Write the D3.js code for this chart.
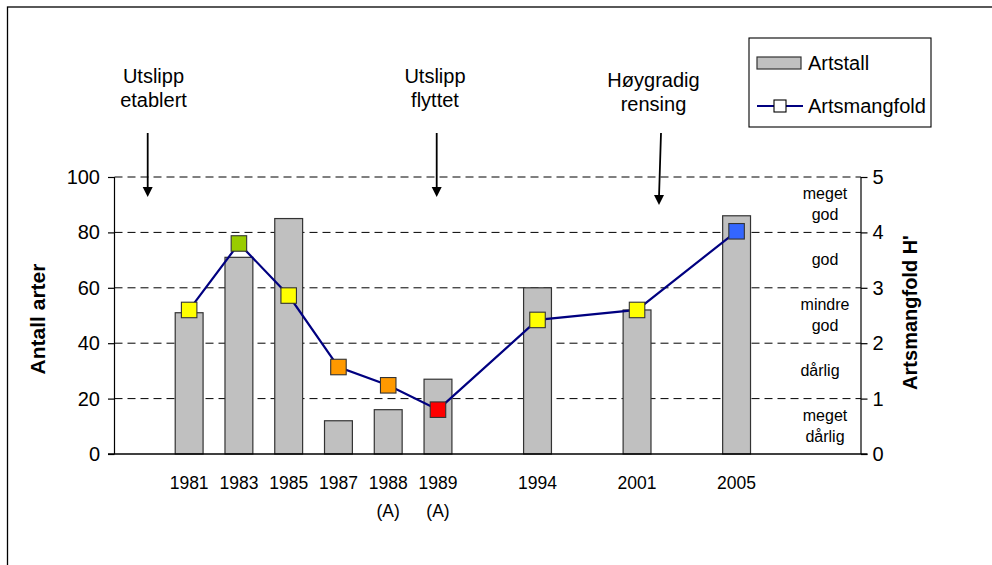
<!DOCTYPE html>
<html>
<head>
<meta charset="utf-8">
<script src="https://cdn.jsdelivr.net/npm/d3@7"></script>
<style>
  html, body { margin: 0; padding: 0; background: #fff; }
  svg { display: block; font-family: "Liberation Sans", Arial, sans-serif; }
</style>
</head>
<body>
<svg id="chart" width="992" height="565"></svg>
<script>
// ---- data ----
const categories = ["1981", "1983", "1985", "1987", "1988", "1989", "1994", "2001", "2005"];
const subLabels = ["", "", "", "", "(A)", "(A)", "", "", ""];
// category slots on the axis (empty slots keep the gaps of the original)
const axisSlots = ["_s0", "1981", "1983", "1985", "1987", "1988", "1989", "_s7", "1994", "_s9", "2001", "_s11", "2005", "_s13", "_s14"];
const artstall = [51, 71, 85, 12, 16, 27, 60, 52, 86];
const artsmangfold = [2.60, 3.80, 2.86, 1.57, 1.24, 0.80, 2.42, 2.60, 4.02];
const leftTicks = [0, 20, 40, 60, 80, 100];
const rightTicks = [0, 1, 2, 3, 4, 5];
const classBreaks = [1, 2, 3, 4];
const classNames = [
  { lines: ["meget", "dårlig"], lo: 0, hi: 1 },
  { lines: ["dårlig"], lo: 1, hi: 2 },
  { lines: ["mindre", "god"], lo: 2, hi: 3 },
  { lines: ["god"], lo: 3, hi: 4 },
  { lines: ["meget", "god"], lo: 4, hi: 5 }
];
const events = [
  { lines: ["Utslipp", "etablert"] },
  { lines: ["Utslipp", "flyttet"] },
  { lines: ["Høygradig", "rensing"] }
];

// ---- layout / style ----
const plot = { left: 114.5, right: 861, top: 177, bottom: 454 };
const classColors = ["#FF0000", "#FF9900", "#FFFF00", "#99CC00", "#3366FF"];
const eventLayout = [
  { tx: 153.5, ty: 83, ax1: 147.7, ax2: 147.7 },
  { tx: 435, ty: 83, ax1: 436.7, ax2: 436.7 },
  { tx: 653.5, ty: 87, ax1: 661, ax2: 659 }
];

const svg = d3.select("#chart");

// outer frame (only top & left visible)
svg.append("rect").attr("x", 7.5).attr("y", 7).attr("width", 1000).attr("height", 600)
  .attr("fill", "#fff").attr("stroke", "#000").attr("stroke-width", 1.3);

const x = d3.scaleBand().domain(axisSlots).range([plot.left, plot.right])
  .paddingInner(0.44).paddingOuter(0.22);
const yL = d3.scaleLinear().domain([0, 100]).range([plot.bottom, plot.top]);
const yR = d3.scaleLinear().domain([0, 5]).range([plot.bottom, plot.top]);
const colorOf = d3.scaleThreshold().domain(classBreaks).range(classColors);
const cx = c => x(c) + x.bandwidth() / 2;

// gridlines
svg.append("g").selectAll("line").data(leftTicks.filter(d => d > 0)).join("line")
  .attr("x1", plot.left).attr("x2", plot.right)
  .attr("y1", d => yL(d)).attr("y2", d => yL(d))
  .attr("stroke", "#000").attr("stroke-width", 1).attr("stroke-dasharray", "8,5");

// bars
svg.append("g").selectAll("rect").data(categories).join("rect")
  .attr("x", c => x(c))
  .attr("width", x.bandwidth())
  .attr("y", (c, i) => yL(artstall[i]))
  .attr("height", (c, i) => yL(0) - yL(artstall[i]))
  .attr("fill", "#C0C0C0").attr("stroke", "#333").attr("stroke-width", 1.2);

// left axis
const leftAxis = d3.axisLeft(yL).tickValues(leftTicks).tickFormat(d3.format("d")).tickSize(6.5).tickPadding(8);
const gL = svg.append("g").attr("transform", `translate(${plot.left},0)`).call(leftAxis);
gL.select(".domain").attr("stroke", "#000").attr("stroke-width", 1.2).attr("d", `M0,${plot.top}V${plot.bottom}`);
gL.selectAll(".tick line").attr("stroke", "#000").attr("stroke-width", 1.2);
gL.selectAll(".tick text").attr("font-size", 20).attr("fill", "#000")
  .attr("font-family", "Liberation Sans, Arial, sans-serif");

// right axis
const rightAxis = d3.axisRight(yR).tickValues(rightTicks).tickFormat(d3.format("d")).tickSize(6.5).tickPadding(5);
const gR = svg.append("g").attr("transform", `translate(${plot.right},0)`).call(rightAxis);
gR.select(".domain").attr("stroke", "#000").attr("stroke-width", 1.2).attr("d", `M0,${plot.top}V${plot.bottom}`);
gR.selectAll(".tick line").attr("stroke", "#000").attr("stroke-width", 1.2);
gR.selectAll(".tick text").attr("font-size", 20).attr("fill", "#000")
  .attr("font-family", "Liberation Sans, Arial, sans-serif");

// x axis baseline
svg.append("line").attr("x1", plot.left - 6.5).attr("x2", plot.right + 6.5)
  .attr("y1", plot.bottom).attr("y2", plot.bottom)
  .attr("stroke", "#000").attr("stroke-width", 1.3);

// x labels
const xl = svg.append("g").attr("font-size", 17.5).attr("text-anchor", "middle").attr("fill", "#000");
xl.selectAll("text.yr").data(categories).join("text").attr("class", "yr")
  .attr("x", c => cx(c)).attr("y", 489).text(c => c);
xl.selectAll("text.sub").data(categories).join("text").attr("class", "sub")
  .attr("x", c => cx(c)).attr("y", 517).text((c, i) => subLabels[i]);

// class labels on right
const cl = svg.append("g").attr("font-size", 16).attr("text-anchor", "middle").attr("fill", "#000");
classNames.forEach(k => {
  const mid = yR((k.lo + k.hi) / 2);
  const n = k.lines.length;
  k.lines.forEach((ln, j) => {
    cl.append("text")
      .attr("x", n === 1 && ln === "dårlig" ? 820 : 825)
      .attr("y", mid + 5 + (j - (n - 1) / 2) * 20.5)
      .text(ln);
  });
});

// line series
const line = d3.line().x((d, i) => cx(categories[i])).y(d => yR(d));
svg.append("path").datum(artsmangfold).attr("d", line)
  .attr("fill", "none").attr("stroke", "#000080").attr("stroke-width", 2.2);

// markers
const ms = 15.5;
svg.append("g").selectAll("rect").data(artsmangfold).join("rect")
  .attr("x", (d, i) => cx(categories[i]) - ms / 2)
  .attr("y", d => yR(d) - ms / 2)
  .attr("width", ms).attr("height", ms)
  .attr("fill", d => colorOf(d)).attr("stroke", "#333").attr("stroke-width", 1.1);

// axis titles
svg.append("text").attr("transform", `translate(45,319) rotate(-90)`)
  .attr("text-anchor", "middle").attr("font-size", 21).attr("font-weight", "bold")
  .attr("fill", "#000").text("Antall arter");
svg.append("text").attr("transform", `translate(917,312.5) rotate(-90)`)
  .attr("text-anchor", "middle").attr("font-size", 20).attr("font-weight", "bold")
  .attr("fill", "#000").text("Artsmangfold H'");

// event annotations
const ev = svg.append("g");
events.forEach((e, i) => {
  const L = eventLayout[i];
  e.lines.forEach((ln, j) => {
    ev.append("text").attr("x", L.tx).attr("y", L.ty + j * 23.5)
      .attr("text-anchor", "middle").attr("font-size", 20).attr("fill", "#000").text(ln);
  });
  const top = 133, tip = i === 2 ? 205 : 197;
  ev.append("line").attr("x1", L.ax1).attr("y1", top).attr("x2", L.ax2).attr("y2", tip - 8)
    .attr("stroke", "#000").attr("stroke-width", 1.8);
  ev.append("path")
    .attr("d", `M${L.ax2 - 5},${tip - 10}L${L.ax2 + 5},${tip - 10}L${L.ax2},${tip}Z`)
    .attr("fill", "#000");
});

// legend
const lg = svg.append("g");
lg.append("rect").attr("x", 749).attr("y", 38).attr("width", 182).attr("height", 89)
  .attr("fill", "#fff").attr("stroke", "#000").attr("stroke-width", 1.1);
lg.append("rect").attr("x", 757).attr("y", 57).attr("width", 44).attr("height", 12)
  .attr("fill", "#C0C0C0").attr("stroke", "#333").attr("stroke-width", 1.2);
lg.append("text").attr("x", 808).attr("y", 70).attr("font-size", 20).attr("fill", "#000").text("Artstall");
lg.append("line").attr("x1", 757).attr("x2", 803).attr("y1", 106).attr("y2", 106)
  .attr("stroke", "#000080").attr("stroke-width", 2.2);
lg.append("rect").attr("x", 774).attr("y", 100).attr("width", 12).attr("height", 12)
  .attr("fill", "#fff").attr("stroke", "#000").attr("stroke-width", 1.1);
lg.append("text").attr("x", 808).attr("y", 113).attr("font-size", 20).attr("fill", "#000").text("Artsmangfold");
</script>
</body>
</html>
